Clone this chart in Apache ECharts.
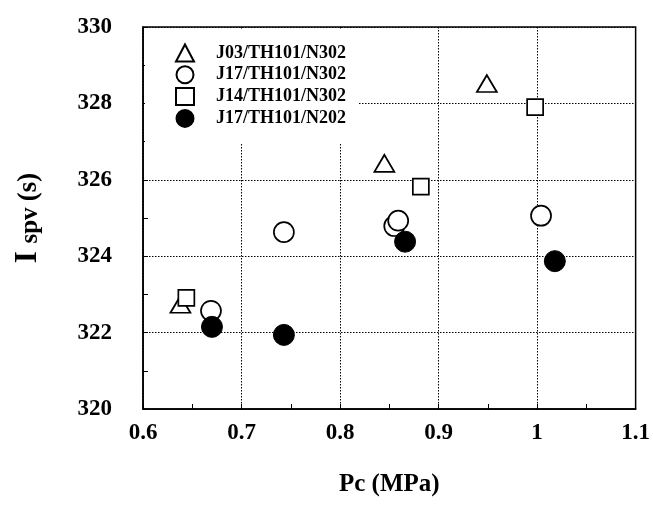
<!DOCTYPE html>
<html>
<head>
<meta charset="utf-8">
<script src="https://cdn.jsdelivr.net/npm/echarts@6/dist/echarts.min.js"></script>
<style>html,body{margin:0;padding:0;background:#fff;}#c{width:653px;height:505px;}</style>
</head>
<body>
<div id="c"></div>
<script>
// Data
const seriesNames = ['J03/TH101/N302', 'J17/TH101/N302', 'J14/TH101/N302', 'J17/TH101/N202'];
const j03_n302 = [[0.638, 322.74], [0.845, 326.43], [0.949, 328.52]];
const j17_n302 = [[0.669, 322.57], [0.743, 324.63], [0.855, 324.79], [0.859, 324.93], [1.004, 325.06]];
const j14_n302 = [[0.644, 322.91], [0.882, 325.82], [0.998, 327.90]];
const j17_n202 = [[0.670, 322.15], [0.743, 321.94], [0.866, 324.38], [1.018, 323.87]];
const xTickLabels = ['0.6', '0.7', '0.8', '0.9', '1', '1.1'];
const yTickLabels = ['320', '322', '324', '326', '328', '330'];
const xName = 'Pc (MPa)';

const FONT = '"Liberation Serif", "Times New Roman", serif';
const chart = echarts.init(document.getElementById('c'), null, {renderer: 'canvas'});

function pick(labels, v) {
  for (const l of labels) { if (Math.abs(parseFloat(l) - v) < 1e-6) return l; }
  return '';
}

const openStyle = {color: '#fff', borderColor: '#000', borderWidth: 1.7, opacity: 1};
const option = {
  backgroundColor: '#fff',
  animation: false,
  grid: {left: 143, right: 17, top: 27, bottom: 96, show: true, borderColor: '#000', borderWidth: 1.5, backgroundColor: 'transparent'},
  legend: {
    orient: 'vertical', left: 145, top: 29,
    padding: [14.5, 12, 16, 30],
    backgroundColor: '#fff',
    itemWidth: 18, itemHeight: 17, itemGap: 2.8,
    textStyle: {fontFamily: FONT, fontWeight: 'bold', fontSize: 18, color: '#000', padding: [0, 0, 0, 17]},
    data: [
      {name: seriesNames[0], icon: 'triangle'},
      {name: seriesNames[1], icon: 'circle'},
      {name: seriesNames[2], icon: 'rect'},
      {name: seriesNames[3], icon: 'circle'}
    ]
  },
  xAxis: {
    type: 'value', min: 0.6, max: 1.1, interval: 0.1,
    name: xName, nameLocation: 'middle', nameGap: 63,
    nameTextStyle: {fontFamily: FONT, fontWeight: 'bold', fontSize: 25, color: '#000'},
    axisLine: {lineStyle: {color: '#000', width: 1.5}},
    axisTick: {inside: true, length: 5, lineStyle: {color: '#000', width: 1}},
    minorTick: {show: true, splitNumber: 2, length: 5, lineStyle: {color: '#000', width: 1}},
    axisLabel: {margin: 13, fontFamily: FONT, fontWeight: 'bold', fontSize: 23, color: '#000',
      formatter: v => pick(xTickLabels, v)},
    splitLine: {show: true, lineStyle: {color: '#000', type: [1.5, 1.5], width: 1}}
  },
  yAxis: {
    type: 'value', min: 320, max: 330, interval: 2,
    name: '{i|I }{s|spv }{p|(s)}', nameLocation: 'middle', nameGap: 100, nameRotate: 90,
    nameTextStyle: {
      color: '#000',
      rich: {
        i: {fontFamily: FONT, fontWeight: 'bold', fontSize: 31, color: '#000', verticalAlign: 'bottom'},
        s: {fontFamily: FONT, fontWeight: 'bold', fontSize: 25, color: '#000', verticalAlign: 'bottom'},
        p: {fontFamily: FONT, fontWeight: 'bold', fontSize: 27, color: '#000', verticalAlign: 'bottom'}
      }
    },
    axisLine: {lineStyle: {color: '#000', width: 1.5}},
    axisTick: {inside: true, length: 5, lineStyle: {color: '#000', width: 1}},
    minorTick: {show: true, splitNumber: 2, length: 5, lineStyle: {color: '#000', width: 1}},
    axisLabel: {margin: 31, fontFamily: FONT, fontWeight: 'bold', fontSize: 23, color: '#000',
      formatter: v => pick(yTickLabels, v)},
    splitLine: {show: true, lineStyle: {color: '#000', type: [1.5, 1.5], width: 1}}
  },
  series: [
    {name: seriesNames[0], type: 'scatter', symbol: 'triangle', symbolSize: [20, 17], data: j03_n302, itemStyle: openStyle, z: 3},
    {name: seriesNames[1], type: 'scatter', symbol: 'circle', symbolSize: 20, data: j17_n302, itemStyle: openStyle, z: 3},
    {name: seriesNames[2], type: 'scatter', symbol: 'rect', symbolSize: 16, data: j14_n302, itemStyle: openStyle, z: 3},
    {name: seriesNames[3], type: 'scatter', symbol: 'circle', symbolSize: 21, data: j17_n202, itemStyle: {color: '#000', borderColor: '#000', borderWidth: 1, opacity: 1}, z: 3}
  ]
};
chart.setOption(option);
</script>
</body>
</html>
